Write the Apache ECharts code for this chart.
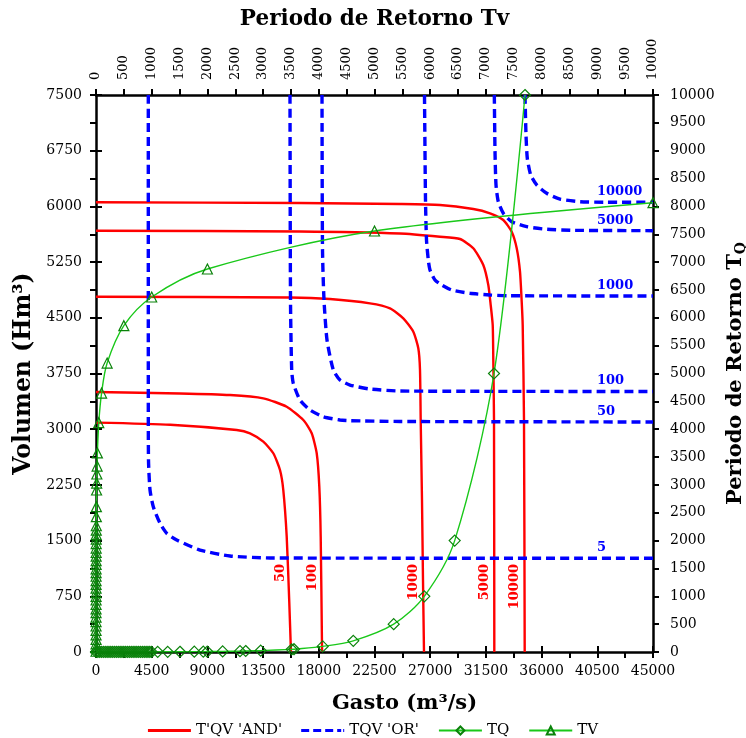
<!DOCTYPE html>
<html>
<head>
<meta charset="utf-8">
<script src="https://cdn.jsdelivr.net/npm/echarts@6/dist/echarts.min.js"></script>
<style>
  html, body { margin: 0; padding: 0; background: #fff; }
  #chart { width: 746px; height: 738px; }
</style>
</head>
<body>
<div id="chart"></div>
<script>
// Return periods labelled on each family of isolines
const andPeriods = [50, 100, 1000, 5000, 10000];
const orPeriods = [5, 50, 100, 1000, 5000, 10000];

// T'QV 'AND' isolines, points as [Q (m3/s), V (Hm3)]
const and50 = [[0,3088],[6000,3060],[11367,2989],[12442,2945],[13516,2832],[14324,2676],[14865,2451],[15132,2181],[15407,1553],[15617,660],[15750,0]];
const and100 = [[0,3501],[6786,3481],[10826,3460],[13516,3416],[15407,3303],[16748,3124],[17427,2945],[17831,2676],[18041,2226],[18154,1553],[18259,71],[18270,0]];
const and1000 = [[0,4784],[15673,4774],[18905,4753],[22136,4695],[23752,4628],[24827,4493],[25635,4313],[26039,4089],[26176,3797],[26232,3124],[26337,2046],[26418,969],[26499,0]];
const and5000 = [[0,5673],[16481,5662],[24560,5635],[27792,5592],[29408,5561],[30482,5436],[31290,5211],[31694,4942],[31888,4672],[32050,4403],[32098,3932],[32155,3124],[32180,0]];
const and10000 = [[0,6055],[16481,6046],[24560,6032],[27792,6019],[30482,5965],[31832,5907],[32906,5817],[33585,5659],[33989,5436],[34255,5121],[34392,4717],[34473,4403],[34578,3124],[34635,0]];

// TQV 'OR' isolines, points as [Q (m3/s), V (Hm3)]
const or5 = [[4225,7500],[4225,3393],[4241,2585],[4363,2181],[4629,1956],[5171,1733],[5712,1598],[6520,1508],[8403,1373],[10826,1293],[14058,1266],[45000,1262]];
const or50 = [[15673,7500],[15713,4740],[15810,3797],[15939,3618],[16481,3393],[17289,3259],[18364,3168],[19713,3124],[20520,3115],[24560,3104],[45000,3097]];
const or100 = [[18259,7500],[18299,5413],[18420,4740],[18663,4201],[19172,3797],[19713,3662],[20520,3595],[22136,3541],[24560,3514],[45000,3508]];
const or1000 = [[26539,7500],[26620,6086],[26701,5548],[26846,5278],[26983,5144],[27387,5009],[27928,4942],[28736,4874],[30214,4830],[31830,4807],[33309,4797],[45000,4793]];
const or5000 = [[32180,7500],[32236,6737],[32317,6288],[32503,6063],[32906,5907],[33585,5794],[34796,5727],[36412,5692],[38561,5678],[45000,5673]];
const or10000 = [[34659,7500],[34740,6961],[34845,6647],[35119,6423],[35604,6289],[36412,6176],[37487,6099],[39102,6063],[41259,6055],[45000,6055]];

// Marginal return period of the peak discharge: Q (m3/s) and TQ (years)
const tqGasto = [0,150,300,450,600,750,900,1050,1200,1350,1500,1650,1800,1950,2100,2250,2400,2550,2700,2850,3000,3150,3300,3450,3600,3750,3900,4050,4200,4350,4500,4985,5793,6786,7942,8669,8992,10232,11634,12094,13306,15811,15997,18315,20787,24051,26523,28978,32155,34659];
const tqPeriodo = [1.0001,1.0005,1.001,1.002,1.003,1.005,1.007,1.01,1.013,1.017,1.02,1.03,1.04,1.05,1.06,1.07,1.09,1.1,1.12,1.15,1.2,1.25,1.3,1.35,1.4,1.5,1.6,1.7,1.8,2,2.2,3,3.5,4.5,6,7,8,11,15,18,25,48,50,100,200,500,1000,2000,5000,10000];

// Marginal return period of the volume: Tv (years) and V (Hm3)
const tvPeriodo = [1.001,1.005,1.01,1.02,1.03,1.05,1.07,1.1,1.13,1.17,1.2,1.25,1.3,1.35,1.4,1.5,1.6,1.7,1.8,2,2.2,2.4,2.6,2.8,3,3.3,3.6,4,4.5,5,5.5,6,7,10,12,15,20,25,50,100,200,500,1000,2000,5000,10000];
const tvVolumen = [10,60,110,170,230,290,350,410,470,530,580,640,700,750,800,860,910,960,1020,1070,1120,1180,1230,1290,1340,1400,1460,1520,1580,1640,1700,1822,1957,2181,2275,2397,2504,2680,3088,3487,3891,4394,4780,5157,5669,6050];

const andCurves = [and50, and100, and1000, and5000, and10000];
const orCurves = [or5, or50, or100, or1000, or5000, or10000];

const SERIF = 'DejaVu Serif';
const RED = '#ff0000', BLUE = '#0000ff', GREEN = '#19c819', DARK_GREEN = '#0a820a';
const ANDNAME = "T'QV 'AND'", ORNAME = "TQV 'OR'";
const AND_LABEL_V = 1185;   // height at which the AND labels end
const OR_LABEL_Q = 40476;   // left edge of the OR labels

const plain = v => String(v);
const axisLine = { show: true, onZero: false, lineStyle: { color: '#000', width: 2.5 } };
const tick = (inside) => ({ show: true, inside: inside, length: 6, lineStyle: { color: '#000', width: 2 } });
const labelStyle = (size, margin) => ({ fontFamily: SERIF, fontSize: size, color: '#000', margin: margin, formatter: plain });
const nameStyle = (size) => ({ fontFamily: SERIF, fontWeight: 'bold', fontSize: size, color: '#000' });

// Second copy of each axis only adds the inner half of the crossing ticks
function innerTicks(base) {
  return Object.assign({}, base, {
    name: '', axisLine: { show: false }, axisTick: tick(true),
    axisLabel: { show: false }, splitLine: { show: false }
  });
}

const xQ = { type: 'value', position: 'bottom', min: 0, max: 45000, interval: 4500,
  name: 'Gasto (m³/s)', nameLocation: 'middle', nameGap: 41,
  nameTextStyle: Object.assign(nameStyle(21), { padding: [0, 0, 0, 60] }),
  axisLine: axisLine, axisTick: tick(false), axisLabel: labelStyle(14, 12), splitLine: { show: false } };
const xT = { type: 'value', position: 'top', min: 0, max: 10000, interval: 500,
  name: 'Periodo de Retorno Tv', nameLocation: 'middle', nameGap: 65, nameTextStyle: nameStyle(21.5),
  axisLine: axisLine, axisTick: tick(false),
  axisLabel: Object.assign(labelStyle(13, 15), { rotate: -90 }), splitLine: { show: false } };
const yV = { type: 'value', position: 'left', min: 0, max: 7500, interval: 750,
  name: 'Volumen (Hm³)', nameLocation: 'middle', nameRotate: 90, nameGap: 55, nameTextStyle: nameStyle(23.5),
  axisLine: axisLine, axisTick: tick(false), axisLabel: labelStyle(14, 14), splitLine: { show: false } };
const yT = { type: 'value', position: 'right', min: 0, max: 10000, interval: 500,
  name: '{t|Periodo de Retorno T}{s|Q}', nameLocation: 'middle', nameRotate: 90, nameGap: 52,
  nameTextStyle: Object.assign(nameStyle(21), { rich: {
    t: { fontFamily: SERIF, fontWeight: 'bold', fontSize: 21, color: '#000' },
    s: { fontFamily: SERIF, fontWeight: 'bold', fontSize: 14, color: '#000', padding: [11, 0, 0, 0] }
  } }),
  axisLine: axisLine, axisTick: tick(false), axisLabel: labelStyle(14, 17), splitLine: { show: false } };

const series = [];

andCurves.forEach((curve, i) => {
  const foot = curve[curve.length - 1][0];
  series.push({
    name: ANDNAME, type: 'line', xAxisIndex: 0, yAxisIndex: 0, data: curve,
    symbol: 'none', smooth: 0.2, z: 3,
    lineStyle: { color: RED, width: 2.4 }, itemStyle: { color: RED },
    markPoint: {
      symbol: 'circle', symbolSize: 0, silent: true, animation: false,
      data: [{ coord: [foot, AND_LABEL_V] }],
      label: { show: true, formatter: String(andPeriods[i]), position: 'left', distance: 10, rotate: 90,
        color: RED, fontFamily: SERIF, fontWeight: 'bold', fontSize: 13 }
    }
  });
});

orCurves.forEach((curve, i) => {
  const level = curve[curve.length - 1][1];
  series.push({
    name: ORNAME, type: 'line', xAxisIndex: 0, yAxisIndex: 0, data: curve,
    symbol: 'none', smooth: 0.2, z: 3,
    lineStyle: { color: BLUE, width: 3.4, type: [9, 5] }, itemStyle: { color: BLUE },
    markPoint: {
      symbol: 'circle', symbolSize: 0, silent: true, animation: false,
      data: [{ coord: [OR_LABEL_Q, level] }],
      label: { show: true, formatter: String(orPeriods[i]), position: 'top', distance: 4, align: 'left',
        color: BLUE, fontFamily: SERIF, fontWeight: 'bold', fontSize: 13 }
    }
  });
});

series.push({
  name: 'TQ', type: 'line', xAxisIndex: 0, yAxisIndex: 1,
  data: tqGasto.map((q, i) => [q, tqPeriodo[i]]),
  symbol: 'diamond', symbolSize: 11, smooth: 0.3, z: 5,
  lineStyle: { color: GREEN, width: 1.4 },
  itemStyle: { color: 'rgba(255,255,255,0)', borderColor: DARK_GREEN, borderWidth: 1.2 }
});

series.push({
  name: 'TV', type: 'line', xAxisIndex: 1, yAxisIndex: 0,
  data: tvPeriodo.map((t, i) => [t, tvVolumen[i]]),
  symbol: 'triangle', symbolSize: 10, smooth: 0.3, z: 5,
  lineStyle: { color: GREEN, width: 1.4 },
  itemStyle: { color: 'rgba(255,255,255,0)', borderColor: DARK_GREEN, borderWidth: 1.2 }
});

// Legend keys: a solid bar for the AND family, four dashes for the OR family
const solidKey = 'path://M0,0H43V3H0Z';
const dashedKey = 'path://M0,0H8V3H0Z M12,0H20V3H12Z M24,0H32V3H24Z M36,0H40V3H36Z M42,0H43V3H42Z';

const chart = echarts.init(document.getElementById('chart'), null, { renderer: 'canvas' });
chart.setOption({
  animation: false,
  backgroundColor: '#fff',
  grid: { left: 96, right: 93, top: 95, bottom: 86, containLabel: false, outerBoundsMode: 'none' },
  legend: {
    bottom: -5, left: 'center', itemWidth: 43, itemHeight: 10, itemGap: 19,
    data: [{ name: ANDNAME, icon: solidKey }, { name: ORNAME, icon: dashedKey }, 'TQ', 'TV'],
    textStyle: { fontFamily: SERIF, fontSize: 15, color: '#000' }
  },
  xAxis: [xQ, xT, innerTicks(xQ), innerTicks(xT)],
  yAxis: [yV, yT, innerTicks(yV), innerTicks(yT)],
  series: series
});
</script>
</body>
</html>
